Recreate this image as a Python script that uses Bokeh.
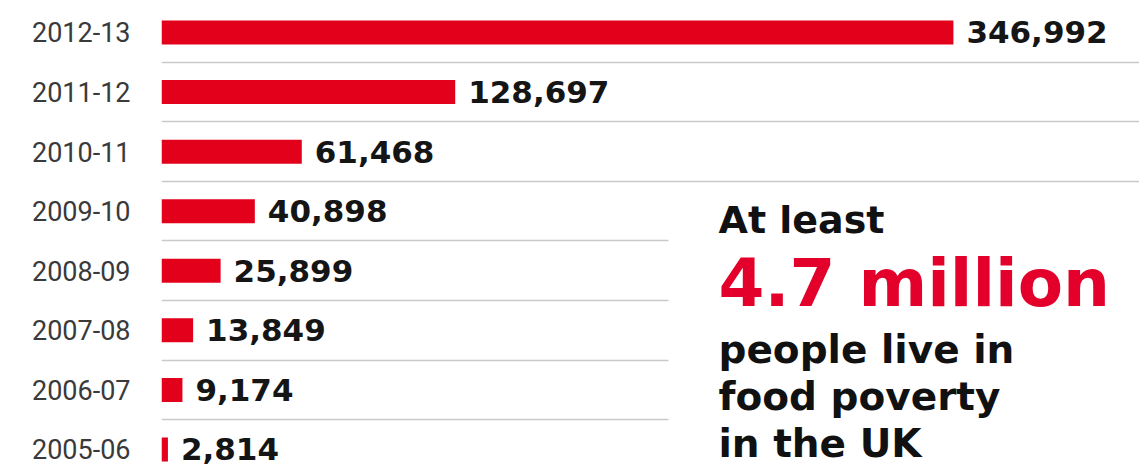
from bokeh.plotting import figure
from bokeh.models import ColumnDataSource, Range1d, FixedTicker, Label, BoxAnnotation
from bokeh.core.properties import value
from bokeh.embed import file_html
from bokeh.resources import INLINE

# Data (bottom to top)
years = ["2005-06", "2006-07", "2007-08", "2008-09", "2009-10", "2010-11", "2011-12", "2012-13"]
people_fed = [2814, 9174, 13849, 25899, 40898, 61468, 128697, 346992]

RED = "#e2001b"

idx = list(range(len(years)))
src = ColumnDataSource(dict(
    idx=idx,
    value=people_fed,
    label=["{:,}".format(v) for v in people_fed],
))

W, H = 1139, 469
p = figure(width=W, height=H, output_backend="svg", toolbar_location=None,
           x_range=Range1d(0, max(people_fed) * 1.235),
           y_range=Range1d(-0.336, len(years) - 1 + 0.537),
           min_border_left=161, min_border_right=0, min_border_top=0, min_border_bottom=0)
p.outline_line_color = None
p.background_fill_color = "white"
p.border_fill_color = "white"

p.xaxis.visible = False
p.xgrid.visible = False

yax = p.yaxis[0]
yax.ticker = FixedTicker(ticks=idx)
yax.major_label_overrides = {i: y for i, y in zip(idx, years)}
yax.axis_line_color = None
yax.major_tick_line_color = None
yax.minor_tick_line_color = None
yax.major_tick_out = 0
yax.major_label_standoff = 31
yax.major_label_text_font = "Roboto"
yax.major_label_text_font_size = "27px"
yax.major_label_text_color = "#3a3a3a"

p.ygrid.ticker = FixedTicker(ticks=[i + 0.5 for i in idx[:-1]])
p.ygrid.grid_line_color = "#c9c9c9"
p.ygrid.grid_line_width = 1.5

p.hbar(y="idx", left=0, right="value", height=0.403, source=src,
       fill_color=RED, line_color=None)

p.text(x="value", y="idx", text="label", source=src, x_offset=13,
       text_baseline="middle", text_align="left",
       text_font=value("DejaVu Sans"), text_font_style="bold",
       text_font_size="31px", text_color="#151515")

# White panel behind the statement text (hides separators)
frame_left = 161
p.add_layout(BoxAnnotation(left=668 - frame_left, right=W - frame_left,
                           bottom=0, top=H - 192,
                           left_units="screen", right_units="screen",
                           top_units="screen", bottom_units="screen",
                           fill_color="white", fill_alpha=1.0, line_color=None))

tx = 718 - frame_left
lines = [
    ("At least", 233, 38, "#111111"),
    ("4.7 million", 307, 66, "#e3002b"),
    ("people live in", 363, 39, "#111111"),
    ("food poverty", 410, 39, "#111111"),
    ("in the UK", 457, 39, "#111111"),
]
for txt, base, size, col in lines:
    p.add_layout(Label(x=tx, y=H - base + 0.36 * size, x_units="screen", y_units="screen",
                       text=txt, text_font="DejaVu Sans", text_font_style="bold",
                       text_font_size=f"{size}px", text_color=col,
                       text_baseline="alphabetic", text_align="left"))

open("out.html", "w").write(file_html(p, INLINE))
